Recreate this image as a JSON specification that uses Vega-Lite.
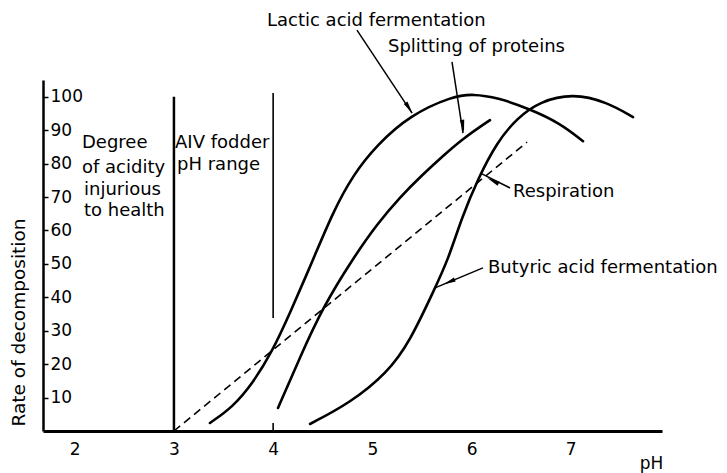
{
  "$schema": "https://vega.github.io/schema/vega-lite/v6.json",
  "width": 619,
  "height": 351,
  "autosize": {"type": "none"},
  "padding": {"left": 43, "top": 80, "right": 65, "bottom": 42},
  "background": "white",
  "config": {"view": {"stroke": null}, "font": "DejaVu Sans"},
  "datasets": {
    "curves": [
      {"series": "Lactic acid fermentation", "pH": 3.363, "v": 2.4},
      {"series": "Lactic acid fermentation", "pH": 3.595, "v": 7.2},
      {"series": "Lactic acid fermentation", "pH": 3.797, "v": 14.4},
      {"series": "Lactic acid fermentation", "pH": 3.988, "v": 23.6},
      {"series": "Lactic acid fermentation", "pH": 4.17, "v": 35.3},
      {"series": "Lactic acid fermentation", "pH": 4.402, "v": 51.2},
      {"series": "Lactic acid fermentation", "pH": 4.603, "v": 65.5},
      {"series": "Lactic acid fermentation", "pH": 4.805, "v": 76.6},
      {"series": "Lactic acid fermentation", "pH": 5.047, "v": 85.6},
      {"series": "Lactic acid fermentation", "pH": 5.38, "v": 94.5},
      {"series": "Lactic acid fermentation", "pH": 5.813, "v": 100.2},
      {"series": "Lactic acid fermentation", "pH": 6.015, "v": 100.8},
      {"series": "Lactic acid fermentation", "pH": 6.257, "v": 99.8},
      {"series": "Lactic acid fermentation", "pH": 6.589, "v": 96.3},
      {"series": "Lactic acid fermentation", "pH": 6.892, "v": 92.1},
      {"series": "Lactic acid fermentation", "pH": 7.124, "v": 86.7},
      {"series": "Splitting of proteins", "pH": 4.049, "v": 6.9},
      {"series": "Splitting of proteins", "pH": 4.271, "v": 22.1},
      {"series": "Splitting of proteins", "pH": 4.503, "v": 37.1},
      {"series": "Splitting of proteins", "pH": 4.795, "v": 51.2},
      {"series": "Splitting of proteins", "pH": 5.05, "v": 62.0},
      {"series": "Splitting of proteins", "pH": 5.28, "v": 70.0},
      {"series": "Splitting of proteins", "pH": 5.5, "v": 76.5},
      {"series": "Splitting of proteins", "pH": 5.72, "v": 82.5},
      {"series": "Splitting of proteins", "pH": 5.914, "v": 87.5},
      {"series": "Splitting of proteins", "pH": 6.186, "v": 93.0},
      {"series": "Butyric acid fermentation", "pH": 4.372, "v": 2.1},
      {"series": "Butyric acid fermentation", "pH": 4.775, "v": 8.4},
      {"series": "Butyric acid fermentation", "pH": 5.148, "v": 17.3},
      {"series": "Butyric acid fermentation", "pH": 5.38, "v": 26.8},
      {"series": "Butyric acid fermentation", "pH": 5.632, "v": 42.8},
      {"series": "Butyric acid fermentation", "pH": 5.763, "v": 51.2},
      {"series": "Butyric acid fermentation", "pH": 5.904, "v": 64.0},
      {"series": "Butyric acid fermentation", "pH": 6.065, "v": 75.5},
      {"series": "Butyric acid fermentation", "pH": 6.257, "v": 86.4},
      {"series": "Butyric acid fermentation", "pH": 6.458, "v": 93.6},
      {"series": "Butyric acid fermentation", "pH": 6.69, "v": 98.6},
      {"series": "Butyric acid fermentation", "pH": 7.023, "v": 101.0},
      {"series": "Butyric acid fermentation", "pH": 7.366, "v": 98.4},
      {"series": "Butyric acid fermentation", "pH": 7.628, "v": 93.9}
    ],
    "respiration": [
      {"series": "Respiration", "pH": 3.0, "v": 0},
      {"series": "Respiration", "pH": 3.988, "v": 24.0},
      {"series": "Respiration", "pH": 6.559, "v": 86.4}
    ],
    "boundaries": [
      {"name": "pH 3", "pH": 3.0, "v": 0, "v2": 100}
    ],
    "boundaries2": [
      {"name": "pH 4 upper", "pH": 4.0, "v": 33.8, "v2": 101.1},
      {"name": "pH 4 lower", "pH": 4.0, "v": 0, "v2": 2.4}
    ],
    "leaders": [
      {"arrow": "lactic", "pH": 4.845, "v": 119.9, "pH2": 5.4, "v2": 95.1},
      {"arrow": "splitting", "pH": 5.803, "v": 110.4, "pH2": 5.914, "v2": 89.1},
      {"arrow": "respiration", "pH": 6.388, "v": 72.7, "pH2": 6.105, "v2": 76.9},
      {"arrow": "butyric", "pH": 6.115, "v": 48.8, "pH2": 5.632, "v2": 42.8}
    ],
    "heads": [
      {"arrow": "lactic", "pH": 5.37, "v": 96.6},
      {"arrow": "splitting", "pH": 5.914, "v": 91.2},
      {"arrow": "respiration", "pH": 6.216, "v": 74.8},
      {"arrow": "butyric", "pH": 5.773, "v": 44.6}
    ],
    "labels": [
      {"label": "Lactic acid fermentation", "pH": 3.938, "v": 122.6},
      {"label": "Splitting of proteins", "pH": 5.158, "v": 114.9},
      {"label": "Respiration", "pH": 6.418, "v": 71.5},
      {"label": "Butyric acid fermentation", "pH": 6.166, "v": 48.8},
      {"label": "Degree", "pH": 2.073, "v": 86.2},
      {"label": "of acidity", "pH": 2.073, "v": 78.7},
      {"label": "injurious", "pH": 2.093, "v": 72.1},
      {"label": "to health", "pH": 2.093, "v": 65.8},
      {"label": "AIV fodder", "pH": 3.011, "v": 86.2},
      {"label": "pH range", "pH": 3.031, "v": 79.6}
    ]
  },
  "encoding": {
    "x": {
      "field": "pH",
      "type": "quantitative",
      "scale": {"domain": [1.68, 7.92], "nice": false, "zero": false},
      "axis": {
        "values": [2, 3, 4, 5, 6, 7],
        "ticks": false,
        "grid": false,
        "domainColor": "black",
        "domainWidth": 3,
        "labelFont": "DejaVu Sans",
        "labelFontSize": 17,
        "labelColor": "black",
        "labelPadding": 10,
        "title": "pH",
        "titleFont": "DejaVu Sans",
        "titleFontSize": 17,
        "titleFontWeight": "normal",
        "titleColor": "black",
        "titleX": 608,
        "titleY": 32,
        "titleAlign": "center",
        "titleBaseline": "middle"
      }
    },
    "y": {
      "field": "v",
      "type": "quantitative",
      "scale": {"domain": [0, 105], "nice": false},
      "axis": {
        "values": [10, 20, 30, 40, 50, 60, 70, 80, 90, 100],
        "grid": false,
        "tickSize": -5,
        "tickWidth": 1.5,
        "tickColor": "black",
        "domainColor": "black",
        "domainWidth": 2.5,
        "labelAlign": "left",
        "labelPadding": -2,
        "labelFont": "DejaVu Sans",
        "labelFontSize": 17,
        "labelColor": "black",
        "title": "Rate of decomposition",
        "titleFont": "DejaVu Sans",
        "titleFontSize": 18.5,
        "titleFontWeight": "normal",
        "titleColor": "black",
        "titleX": -25,
        "titleY": 242,
        "titleAngle": -90,
        "titleAlign": "center",
        "titleBaseline": "middle"
      }
    }
  },
  "layer": [
    {
      "data": {"name": "curves"},
      "mark": {"type": "line", "interpolate": "basis", "color": "black", "strokeWidth": 2.6, "strokeCap": "round"},
      "encoding": {"detail": {"field": "series"}}
    },
    {
      "data": {"name": "respiration"},
      "mark": {"type": "line", "color": "black", "strokeWidth": 1.6, "strokeDash": [8, 5]},
      "encoding": {"detail": {"field": "series"}}
    },
    {
      "data": {"name": "boundaries"},
      "mark": {"type": "rule", "color": "black", "strokeWidth": 2.5},
      "encoding": {"y2": {"field": "v2"}}
    },
    {
      "data": {"name": "boundaries2"},
      "mark": {"type": "rule", "color": "black", "strokeWidth": 1.6},
      "encoding": {"y2": {"field": "v2"}}
    },
    {
      "data": {"name": "leaders"},
      "mark": {"type": "rule", "color": "black", "strokeWidth": 1.5},
      "encoding": {"x2": {"field": "pH2"}, "y2": {"field": "v2"}}
    },
    {
      "data": {"name": "heads"},
      "transform": [{"filter": "datum.arrow === 'lactic'"}],
      "mark": {"type": "point", "shape": "M0,-1L0.35,1L-0.35,1Z", "filled": true, "color": "black", "opacity": 1, "size": 160, "angle": 146.5}
    },
    {
      "data": {"name": "heads"},
      "transform": [{"filter": "datum.arrow === 'splitting'"}],
      "mark": {"type": "point", "shape": "M0,-1L0.35,1L-0.35,1Z", "filled": true, "color": "black", "opacity": 1, "size": 160, "angle": 171}
    },
    {
      "data": {"name": "heads"},
      "transform": [{"filter": "datum.arrow === 'respiration'"}],
      "mark": {"type": "point", "shape": "M0,-1L0.35,1L-0.35,1Z", "filled": true, "color": "black", "opacity": 1, "size": 160, "angle": 297}
    },
    {
      "data": {"name": "heads"},
      "transform": [{"filter": "datum.arrow === 'butyric'"}],
      "mark": {"type": "point", "shape": "M0,-1L0.35,1L-0.35,1Z", "filled": true, "color": "black", "opacity": 1, "size": 160, "angle": 247}
    },
    {
      "data": {"name": "labels"},
      "mark": {"type": "text", "align": "left", "baseline": "middle", "font": "DejaVu Sans", "fontSize": 18, "color": "black"},
      "encoding": {"text": {"field": "label"}}
    }
  ]
}
